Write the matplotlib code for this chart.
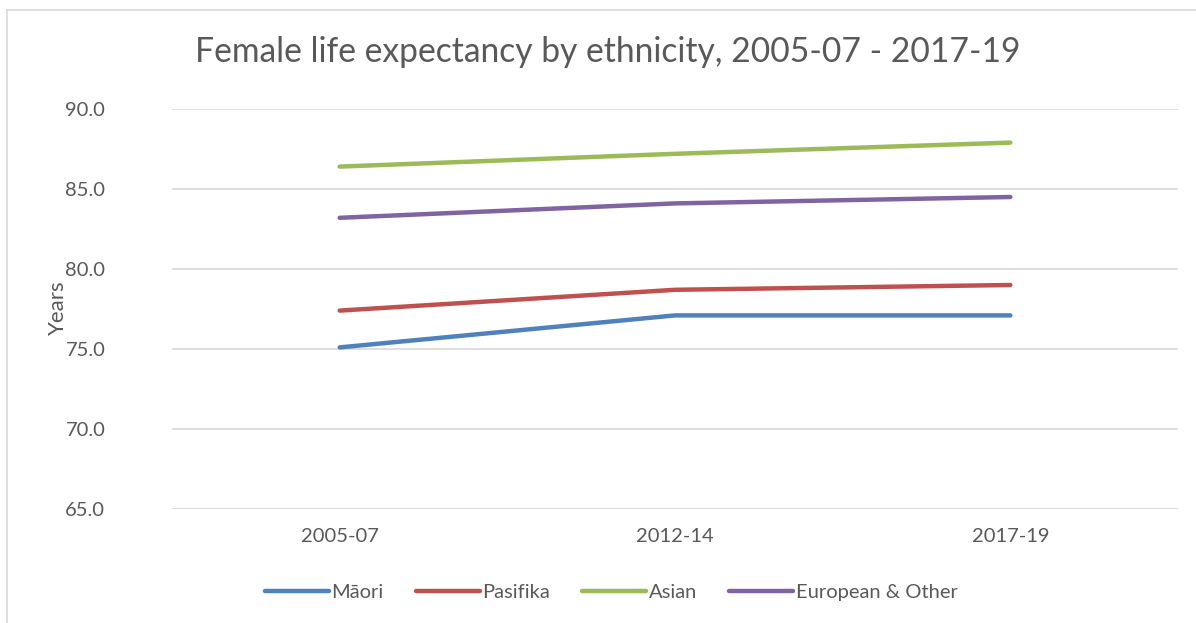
import matplotlib.pyplot as plt
from matplotlib.lines import Line2D

periods = ['2005-07', '2012-14', '2017-19']
maori = [75.1, 77.1, 77.1]
pasifika = [77.4, 78.7, 79.0]
asian = [86.4, 87.2, 87.9]
european = [83.2, 84.1, 84.5]

series = [
    ('Māori', maori, '#4F81BD'),
    ('Pasifika', pasifika, '#C0504D'),
    ('Asian', asian, '#9BBB59'),
    ('European & Other', european, '#8064A2'),
]

plt.rcParams['font.family'] = ['Lato', 'DejaVu Sans']
text_col = '#595959'

W, H = 1196, 623
fig = plt.figure(figsize=(W / 100, H / 100), dpi=100)
ax = fig.add_axes([172 / W, 1 - 509 / H, (1178 - 172) / W, (509 - 109) / H])

x = list(range(len(periods)))
for name, vals, col in series:
    ax.plot(x, vals, color=col, linewidth=3.2, solid_capstyle='round', label=name)

ax.set_xlim(-0.5, 2.5)
ax.set_ylim(65, 90)
ax.set_yticks([65, 70, 75, 80, 85, 90])
ax.set_yticklabels([f'{v:.1f}' for v in [65, 70, 75, 80, 85, 90]])
ax.set_xticks(x)
ax.set_xticklabels(periods)
ax.tick_params(axis='both', length=0, labelsize=14.5, colors=text_col)
ax.tick_params(axis='y', pad=48)
ax.tick_params(axis='x', pad=14)
ax.grid(axis='y', color='#D9D9D9', linewidth=1.2)
ax.set_axisbelow(True)
for s in ax.spines.values():
    s.set_visible(False)

ax.set_ylabel('Years', fontsize=16, color=text_col)
ax.yaxis.set_label_coords((58 - 172) / (1178 - 172), (509 - 308) / 400)
ax.yaxis.label.set_va('center')

fig.text(608 / W, 1 - 52 / H, 'Female life expectancy by ethnicity, 2005-07 - 2017-19',
         ha='center', va='center', fontsize=24.2, color=text_col)

handles = [Line2D([0], [0], color=c, linewidth=3.2, solid_capstyle='round') for _, _, c in series]
fig.legend(handles, [n for n, _, _ in series], loc='center', bbox_to_anchor=(611 / W, 1 - 592 / H),
           ncol=4, frameon=False, fontsize=14.5, labelcolor=text_col, handlelength=3.2,
           handletextpad=0.1, columnspacing=1.6)

# chart border (only left and top visible in the crop)
fig.add_artist(Line2D([7 / W, 7 / W], [0, 1 - 10 / H], color='#D9D9D9', linewidth=1.2))
fig.add_artist(Line2D([7 / W, 1], [1 - 10 / H, 1 - 10 / H], color='#D9D9D9', linewidth=1.2))

fig.savefig('out.png', dpi=100)
